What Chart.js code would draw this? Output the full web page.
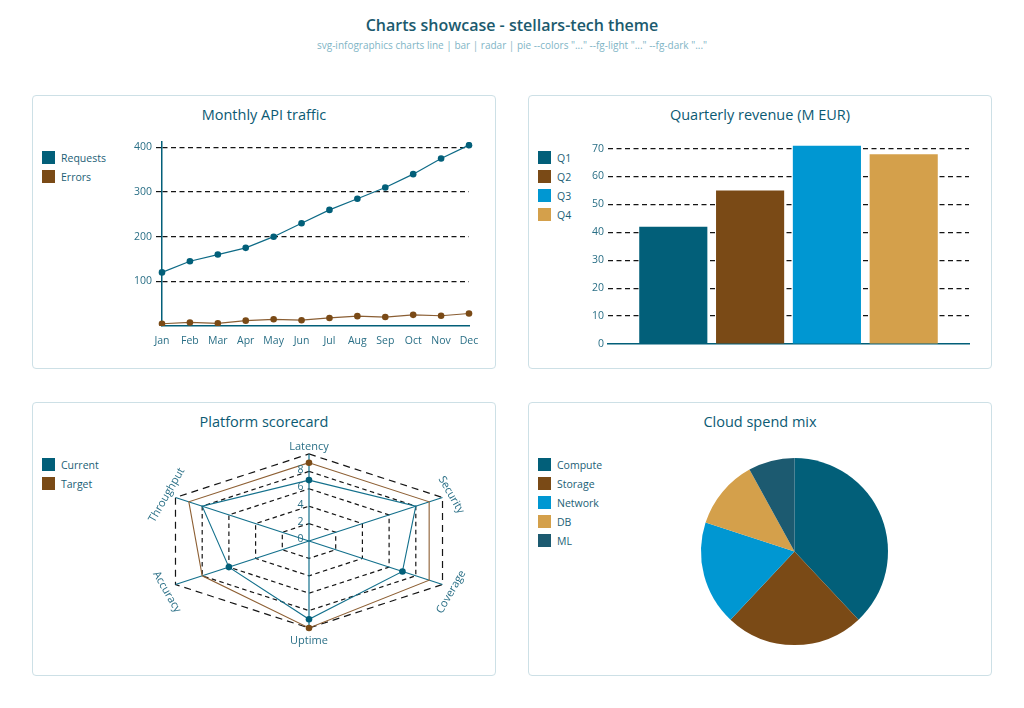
<!DOCTYPE html>
<html>
<head>
<meta charset="utf-8">
<script src="https://cdn.jsdelivr.net/npm/chart.js@4.4.1/dist/chart.umd.min.js"></script>
<style>
html,body{margin:0;padding:0;background:#ffffff;}
body{width:1024px;height:708px;position:relative;overflow:hidden;font-family:'Open Sans',sans-serif;}
.h1{position:absolute;left:0;width:1024px;top:13px;text-align:center;font-size:16px;font-weight:600;color:#1b5a6e;line-height:24px;}
.h2{position:absolute;left:0;width:1024px;top:37px;text-align:center;font-size:10px;color:#7fb5c6;line-height:16px;}
.panel{position:absolute;width:464px;height:274px;}
.frame{position:absolute;left:0;top:0;right:0;bottom:0;border:1px solid #cde0e6;border-radius:4px;}
.ptitle{position:absolute;left:0;width:100%;top:9px;text-align:center;font-size:14.5px;color:#0b5a73;line-height:22px;}
.legend{position:absolute;left:10px;top:53px;}
.legend .row{height:19px;display:flex;align-items:center;font-size:10.5px;color:#1b5e75;}
.legend .sw{width:13px;height:13px;margin-right:6px;display:inline-block;}
canvas{position:absolute;left:0;top:0;}
</style>
</head>
<body>
<div class="h1">Charts showcase - stellars-tech theme</div>
<div class="h2">svg-infographics charts line | bar | radar | pie --colors "..." --fg-light "..." --fg-dark "..."</div>

<div class="panel" style="left:32px;top:95px;">
  <div class="frame"></div>
  <div class="ptitle">Monthly API traffic</div>
  <div class="legend" id="lg1"></div>
  <canvas id="c1" width="464" height="274"></canvas>
</div>
<div class="panel" style="left:528px;top:95px;">
  <div class="frame"></div>
  <div class="ptitle">Quarterly revenue (M EUR)</div>
  <div class="legend" id="lg2"></div>
  <canvas id="c2" width="464" height="274"></canvas>
</div>
<div class="panel" style="left:32px;top:402px;">
  <div class="frame"></div>
  <div class="ptitle">Platform scorecard</div>
  <div class="legend" id="lg3"></div>
  <canvas id="c3" width="464" height="274"></canvas>
</div>
<div class="panel" style="left:528px;top:402px;">
  <div class="frame"></div>
  <div class="ptitle">Cloud spend mix</div>
  <div class="legend" id="lg4"></div>
  <canvas id="c4" width="464" height="274"></canvas>
</div>

<script>
// ---------- data ----------
const months = ['Jan','Feb','Mar','Apr','May','Jun','Jul','Aug','Sep','Oct','Nov','Dec'];
const lineSeries = ['Requests','Errors'];
const requests = [120,145,160,175,200,230,260,285,310,340,375,405];
const errors = [5,8,6,12,15,13,18,22,20,25,23,28];
const lineTicks = [100,200,300,400];

const quarters = ['Q1','Q2','Q3','Q4'];
const revenue = [42,55,71,68];
const barTicks = [0,10,20,30,40,50,60,70];

const radarAxes = ['Latency','Security','Coverage','Uptime','Accuracy','Throughput'];
const radarSeries = ['Current','Target'];
const current = [7,8,7,9,6,8];
const target = [9,9,9,10,8,9];
const radarRings = [0,2,4,6,8,10];
const radarTickLabels = [0,2,4,6,8];

const spendCats = ['Compute','Storage','Network','DB','ML'];
const spend = [38,24,18,12,8];

// ---------- styles ----------
const TEAL = '#025f79', BROWN = '#7a4a16', BLUE = '#0097d2', GOLD = '#d4a04b', SLATE = '#1c5a70';
const TXT = '#2a6f86';
const GRID = '#151515';
const DASH = [5, 3.5];
const palette = [TEAL, BROWN, BLUE, GOLD, SLATE];

Chart.defaults.font.family = "'Open Sans', sans-serif";
Chart.defaults.font.size = 10.5;
Chart.defaults.color = TXT;

function legend(id, names) {
  const el = document.getElementById(id);
  names.forEach((n, i) => {
    const r = document.createElement('div'); r.className = 'row';
    const s = document.createElement('span'); s.className = 'sw'; s.style.background = palette[i];
    r.appendChild(s); r.appendChild(document.createTextNode(n)); el.appendChild(r);
  });
}
legend('lg1', lineSeries);
legend('lg2', quarters);
legend('lg3', radarSeries);
legend('lg4', spendCats);

const common = {responsive:false, animation:false, events:[], plugins:{legend:{display:false}, tooltip:{enabled:false}}};

// ---------- line ----------
new Chart(document.getElementById('c1'), {
  type:'line',
  data:{labels:months, datasets:[
    {label:lineSeries[0], data:requests, borderColor:'#0d6a86', backgroundColor:TEAL, borderWidth:1.2, pointRadius:3.3, pointBorderWidth:0, pointBackgroundColor:TEAL, tension:0},
    {label:lineSeries[1], data:errors, borderColor:'#8a5e33', backgroundColor:BROWN, borderWidth:1.2, pointRadius:3.3, pointBorderWidth:0, pointBackgroundColor:BROWN, tension:0}
  ]},
  options:Object.assign({}, common, {
    layout:{padding:{left:90, right:27, top:47, bottom:13}},
    scales:{
      x:{grid:{display:false, drawTicks:false}, border:{color:TEAL, width:1.5},
         ticks:{color:TXT, padding:9, maxRotation:0, autoSkip:false},
         afterFit:s=>{s.height=30;}},
      y:{min:0, max:412,
         afterBuildTicks:s=>{s.ticks = lineTicks.map(v=>({value:v}));},
         grid:{color:GRID, lineWidth:1.2, tickLength:6, tickBorderDash:DASH},
         border:{color:TEAL, width:1.5, dash:DASH},
         ticks:{color:TXT, padding:4},
         afterFit:s=>{s.width=40;}}
    }
  })
});

// ---------- bar ----------
new Chart(document.getElementById('c2'), {
  type:'bar',
  data:{labels:[''], datasets: quarters.map((q,i)=>({label:q, data:[revenue[i]], backgroundColor:palette[i], borderWidth:0}))},
  options:Object.assign({}, common, {
    categoryPercentage:0.851, barPercentage:0.887,
    layout:{padding:{left:50, right:23, top:48, bottom:25}},
    scales:{
      x:{grid:{display:false, drawTicks:false}, ticks:{display:false}, border:{color:TEAL, width:1.5},
         afterFit:s=>{s.height=0;}},
      y:{min:0, max:72,
         afterBuildTicks:s=>{s.ticks = barTicks.map(v=>({value:v}));},
         grid:{color:c=>(c.tick && c.tick.value===0) ? 'rgba(0,0,0,0)' : GRID, lineWidth:1.2, drawTicks:false},
         border:{display:false, dash:DASH},
         ticks:{color:TXT, padding:4},
         afterFit:s=>{s.width=30;}}
    }
  })
});

// ---------- radar (horizontally stretched radial scale) ----------
const STRETCH = 1.772;
class StretchRadial extends Chart.RadialLinearScale {
  getPointPosition(index, distance, additionalAngle) {
    const p = super.getPointPosition(index, distance, additionalAngle || 0);
    return {x: this.xCenter + (p.x - this.xCenter) * STRETCH, y: p.y, angle: p.angle};
  }
}
StretchRadial.id = 'stretchRadial';
StretchRadial.defaults = Chart.RadialLinearScale.defaults;
Chart.register(StretchRadial);

const radarText = {
  id:'radarText',
  afterDraw(chart) {
    const s = chart.scales.r, ctx = chart.ctx;
    ctx.save();
    ctx.fillStyle = TXT;
    ctx.font = "11px 'Open Sans', sans-serif";
    ctx.textAlign = 'center'; ctx.textBaseline = 'middle';
    radarAxes.forEach((lab, i) => {
      const p = s.getPointPosition(i, s.drawingArea);
      const a = p.angle;
      const x = p.x + Math.cos(a) * 10, y = p.y + Math.sin(a) * 10 + 2.5;
      let rot = a + Math.PI / 2;
      while (rot > Math.PI / 2 + 1e-6) rot -= Math.PI;
      while (rot <= -Math.PI / 2 + 1e-6) rot += Math.PI;
      ctx.save(); ctx.translate(x, y); ctx.rotate(rot); ctx.fillText(lab, 0, 0); ctx.restore();
    });
    ctx.font = "10.5px 'Open Sans', sans-serif";
    radarTickLabels.forEach(v => {
      const d = s.getDistanceFromCenterForValue(v);
      ctx.fillText(String(v), s.xCenter - 8.5, s.yCenter - d - 1.5);
    });
    ctx.restore();
  }
};

new Chart(document.getElementById('c3'), {
  type:'radar',
  data:{labels:radarAxes, datasets:[
    {label:radarSeries[0], data:current, borderColor:'#13708c', backgroundColor:TEAL, fill:false, borderWidth:1.1, pointRadius:3.3, pointBorderWidth:0, pointBackgroundColor:TEAL},
    {label:radarSeries[1], data:target, borderColor:'#8d5f33', backgroundColor:BROWN, fill:false, borderWidth:1.1, pointRadius:3.3, pointBorderWidth:0, pointBackgroundColor:BROWN}
  ]},
  options:Object.assign({}, common, {
    layout:{padding:{left:177, right:87, top:52, bottom:48}},
    scales:{
      r:{type:'stretchRadial', min:0, max:10,
         afterBuildTicks:s=>{s.ticks = radarRings.map(v=>({value:v}));},
         ticks:{display:false},
         pointLabels:{display:false},
         grid:{color:GRID, lineWidth:1.2},
         border:{dash:c=>(c.index===radarRings.length-1) ? [7,5] : [4.5,3.5]},
         angleLines:{color:'#13708c', lineWidth:1.2}}
    }
  }),
  plugins:[radarText]
});

// ---------- pie ----------
new Chart(document.getElementById('c4'), {
  type:'pie',
  data:{labels:spendCats, datasets:[{data:spend, backgroundColor:palette, borderWidth:0}]},
  options:Object.assign({}, common, {
    layout:{padding:{left:173, right:104, top:56, bottom:31}}
  })
});
</script>
</body>
</html>
